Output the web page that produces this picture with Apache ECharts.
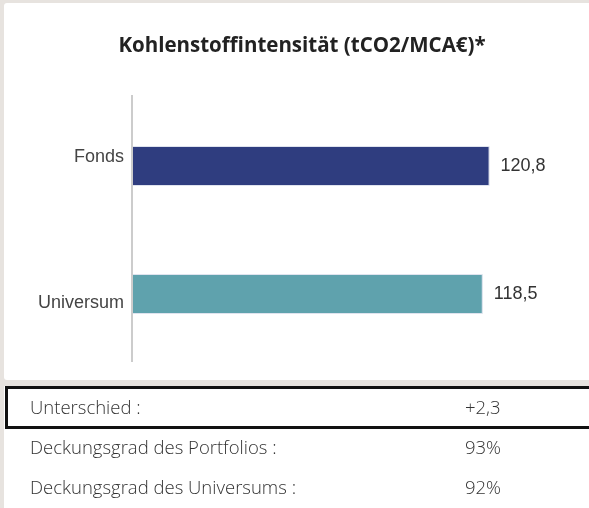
<!DOCTYPE html>
<html>
<head>
<meta charset="utf-8">
<script src="https://cdn.jsdelivr.net/npm/echarts@6/dist/echarts.min.js"></script>
<style>
html,body{margin:0;padding:0;background:#e7e3df;}
#c{width:589px;height:508px;}
</style>
</head>
<body>
<div id="c"></div>
<script>
const titleText = 'Kohlenstoffintensität (tCO2/MCA€)*';
const categories = ['Fonds', 'Universum'];
const values = [120.8, 118.5];
const barColors = ['#2f3d7f', '#5fa2ad'];
const tableLabels = ['Unterschied :', 'Deckungsgrad des Portfolios :', 'Deckungsgrad des Universums :'];
const tableValues = ['+2,3', '93%', '92%'];

const chart = echarts.init(document.getElementById('c'), null, {renderer: 'canvas'});

const rowY = [409, 449, 489];
const graphics = [
  {type: 'rect', shape: {x: 4, y: 3, width: 600, height: 377, r: 3}, style: {fill: '#ffffff'}, z: -10},
  {type: 'rect', shape: {x: 4, y: 386, width: 600, height: 130}, style: {fill: '#ffffff'}, z: -10},
  {type: 'rect', shape: {x: 6.5, y: 387.5, width: 600, height: 40}, style: {fill: 'none', stroke: '#111', lineWidth: 3}, z: 10},
  {type: 'line', shape: {x1: 132, y1: 95, x2: 132, y2: 362}, style: {stroke: '#cccccc', lineWidth: 2}, z: 5}
];
tableLabels.forEach((t, i) => {
  graphics.push({type: 'text', x: 30, y: rowY[i], style: {text: t, fill: '#333', font: '300 18.5px "Open Sans"', verticalAlign: 'middle'}, z: 10});
  graphics.push({type: 'text', x: 465, y: rowY[i], style: {text: tableValues[i], fill: '#333', font: '300 18.5px "Open Sans"', verticalAlign: 'middle'}, z: 10});
});

chart.setOption({
  animation: false,
  backgroundColor: 'transparent',
  title: {
    text: titleText, left: 297, top: 31, textAlign: 'center',
    textStyle: {fontFamily: 'Open Sans', fontWeight: 'bold', fontSize: 20.5, color: '#222'}
  },
  grid: {left: 132, top: 102, bottom: 150, right: 13, containLabel: false},
  xAxis: {type: 'value', min: 0, max: 150, show: false},
  yAxis: {
    type: 'category', inverse: true,
    data: categories.map((c, i) => ({value: c, textStyle: {verticalAlign: i === 0 ? 'bottom' : 'top'}})),
    axisLine: {show: false},
    axisTick: {show: false},
    axisLabel: {fontFamily: 'Liberation Sans', fontSize: 18, color: '#444', margin: 8}
  },
  series: [{
    type: 'bar', barWidth: 40,
    data: values.map((v, i) => ({value: v, itemStyle: {color: barColors[i], borderColor: '#dfe3ee', borderWidth: 1}})),
    label: {
      show: true, position: 'right', distance: 11,
      formatter: p => String(p.value).replace('.', ','),
      fontFamily: 'Liberation Sans', fontSize: 18, color: '#333'
    }
  }],
  graphic: graphics
});
</script>
</body>
</html>
